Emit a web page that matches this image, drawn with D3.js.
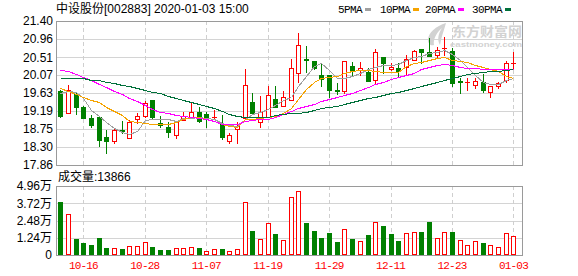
<!DOCTYPE html>
<html>
<head>
<meta charset="utf-8">
<script src="https://cdn.jsdelivr.net/npm/d3@7"></script>
<style>
  body { margin: 0; background: #fff; }
  svg { display: block; }
  text { font-family: "Liberation Sans", "Noto Sans CJK SC", sans-serif; }
</style>
</head>
<body>
<div class="container"></div>
<script>
const dates = [
  "10-11", "10-14", "10-15", "10-16", "10-17", "10-18", "10-21", "10-22", "10-23", "10-24",
  "10-25", "10-28", "10-29", "10-30", "10-31", "11-01", "11-04", "11-05", "11-06", "11-07",
  "11-08", "11-11", "11-12", "11-13", "11-14", "11-15", "11-18", "11-19", "11-20", "11-21",
  "11-22", "11-25", "11-26", "11-27", "11-28", "11-29", "12-02", "12-03", "12-04", "12-05",
  "12-06", "12-09", "12-10", "12-11", "12-12", "12-13", "12-16", "12-17", "12-18", "12-19",
  "12-20", "12-23", "12-24", "12-25", "12-26", "12-27", "12-30", "12-31", "01-02", "01-03",
];
const openPrices = [
  19.68, 19.13, 19.60, 19.29, 19.02, 19.04, 18.56, 18.46, 18.72, 18.52,
  18.99, 19.07, 19.46, 18.89, 18.80, 18.60, 18.97, 19.01, 19.16, 19.11,
  19.03, 18.87, 18.46, 18.74, 19.01, 19.42, 18.91, 19.05, 19.48, 19.31,
  19.46, 20.11, 20.46, 20.42, 20.07, 20.07, 19.70, 19.68, 20.29, 20.20,
  20.15, 19.95, 20.52, 20.22, 20.25, 20.28, 20.44, 20.70, 20.64, 20.57,
  20.70, 20.67, 19.93, 19.88, 19.83, 19.91, 19.66, 19.79, 19.95, 20.35,
];
const highPrices = [
  19.70, 19.83, 19.64, 19.32, 19.09, 19.05, 18.72, 18.76, 18.93, 18.97,
  19.13, 19.44, 19.46, 19.06, 18.92, 18.95, 19.16, 19.38, 19.28, 19.17,
  19.20, 19.09, 18.64, 18.92, 20.21, 19.64, 19.56, 19.80, 19.80, 19.69,
  20.46, 21.10, 20.79, 20.42, 20.36, 20.07, 19.87, 20.42, 20.40, 20.38,
  20.24, 20.70, 20.52, 20.36, 20.36, 20.56, 20.68, 20.70, 20.99, 20.77,
  21.00, 20.73, 19.99, 19.99, 19.99, 20.09, 19.80, 19.91, 20.42, 20.65,
];
const lowPrices = [
  19.04, 19.13, 19.11, 19.02, 18.80, 18.33, 18.16, 18.41, 18.65, 18.52,
  18.89, 19.05, 19.02, 18.80, 18.56, 18.52, 18.96, 19.01, 18.92, 18.80,
  19.00, 18.50, 18.41, 18.41, 19.00, 19.14, 18.80, 19.04, 19.28, 19.30,
  19.45, 19.91, 20.15, 20.22, 19.79, 19.54, 19.61, 19.62, 20.07, 20.07,
  19.92, 19.87, 20.11, 20.20, 20.03, 20.07, 20.43, 20.36, 20.53, 20.52,
  20.56, 19.80, 19.64, 19.70, 19.75, 19.66, 19.52, 19.75, 19.91, 20.21,
];
const closePrices = [
  19.07, 19.70, 19.29, 19.02, 18.84, 18.47, 18.46, 18.72, 18.70, 18.92,
  19.06, 19.38, 19.04, 18.85, 18.68, 18.94, 19.06, 19.17, 18.94, 19.02,
  19.05, 18.56, 18.60, 18.82, 19.82, 19.15, 19.16, 19.57, 19.29, 19.52,
  20.24, 20.81, 20.43, 20.25, 19.97, 19.70, 19.68, 20.42, 20.20, 20.24,
  19.93, 20.65, 20.36, 20.28, 20.17, 20.46, 20.66, 20.65, 20.54, 20.69,
  20.73, 19.87, 19.89, 19.91, 19.93, 19.70, 19.79, 19.87, 20.36, 20.37,
];
// volume in 手
const volumes = [
  38300, 29700, 11500, 8900, 7200, 12400, 5300, 4800, 4300, 6200,
  6200, 9300, 5800, 3600, 3600, 4800, 4800, 5600, 5000, 2900,
  4100, 4300, 2900, 4100, 37900, 17300, 11300, 22800, 15100, 10800,
  41500, 45800, 23000, 17300, 12200, 16000, 9300, 18500, 11500, 10100,
  14400, 23500, 20800, 15100, 10300, 15800, 16500, 16500, 23700, 12200,
  16500, 16500, 10800, 7200, 10100, 8600, 7000, 5800, 15800, 13866,
];
const ma5 = [
  19.64, 19.67, 19.65, 19.51, 19.22, 19.06, 18.92, 18.76, 18.67, 18.62,
  18.70, 18.97, 19.00, 19.00, 18.98, 18.95, 19.01, 19.02, 19.03, 19.02,
  18.98, 18.90, 18.84, 18.82, 18.98, 19.11, 19.16, 19.24, 19.34, 19.46,
  19.53, 19.81, 20.06, 20.29, 20.36, 20.20, 20.01, 20.01, 20.04, 20.11,
  20.21, 20.28, 20.32, 20.33, 20.34, 20.43, 20.51, 20.55, 20.61, 20.65,
  20.69, 20.59, 20.44, 20.27, 20.07, 19.90, 19.85, 19.86, 19.94, 20.00,
];
const ma10 = [
  19.76, 19.69, 19.61, 19.52, 19.46, 19.40, 19.29, 19.19, 19.09, 18.95,
  18.92, 18.89, 18.87, 18.86, 18.86, 18.92, 18.98, 19.03, 19.03, 19.00,
  18.95, 18.86, 18.81, 18.79, 18.99, 19.00, 19.02, 19.03, 19.06, 19.13,
  19.26, 19.49, 19.73, 19.90, 19.99, 20.02, 20.06, 20.11, 20.17, 20.19,
  20.19, 20.17, 20.15, 20.14, 20.15, 20.29, 20.37, 20.40, 20.44, 20.48,
  20.51, 20.44, 20.42, 20.38, 20.32, 20.27, 20.22, 20.17, 20.05, 20.01,
];
const ma20 = [
  20.20, 20.16, 20.10, 20.02, 19.94, 19.85, 19.77, 19.68, 19.61, 19.51,
  19.43, 19.34, 19.24, 19.16, 19.13, 19.10, 19.06, 19.04, 19.02, 18.98,
  18.93, 18.87, 18.86, 18.86, 18.94, 18.97, 18.98, 19.00, 19.05, 19.11,
  19.19, 19.25, 19.31, 19.37, 19.43, 19.49, 19.54, 19.59, 19.64, 19.70,
  19.78, 19.84, 19.90, 19.97, 20.02, 20.07, 20.13, 20.21, 20.27, 20.31,
  20.34, 20.31, 20.27, 20.24, 20.24, 20.23, 20.22, 20.21, 20.21, 20.21,
];
const ma30 = [
  19.99, 19.99, 19.99, 19.99, 19.96, 19.94, 19.91, 19.87, 19.83, 19.79,
  19.76, 19.71, 19.66, 19.62, 19.56, 19.50, 19.46, 19.42, 19.37, 19.32,
  19.27, 19.19, 19.12, 19.06, 19.05, 19.05, 19.05, 19.05, 19.08, 19.11,
  19.14, 19.15, 19.17, 19.21, 19.25, 19.28, 19.32, 19.37, 19.41, 19.46,
  19.50, 19.54, 19.58, 19.62, 19.66, 19.70, 19.75, 19.80, 19.85, 19.89,
  19.94, 19.99, 20.05, 20.10, 20.12, 20.14, 20.16, 20.17, 20.20, 20.22,
];
const maNames = ["5PMA", "10PMA", "20PMA", "30PMA"];
const priceTicks = [17.86, 18.30, 18.75, 19.19, 19.63, 20.07, 20.51, 20.96, 21.40];
const volumeTicks = [0, 12400, 24800, 37200, 49600];
const dateTicks = ["10-16", "10-28", "11-07", "11-19", "11-29", "12-11", "12-23", "01-03"];
const title = "中设股份[002883] 2020-01-03 15:00";

const UP = "#ff0000";
const DOWN = "#008000";
const maColors = ["#a0a0a0", "#f5a300", "#ff00ff", "#00703a"];
const maLegendX = [338, 380, 425, 472];

const width = 578;
const height = 276;
const plotLeft = 56;
const plotRight = 522;
const priceTop = 21;
const priceBottom = 165;
const volTop = 186;
const volBottom = 255;

const svg = d3.select(".container").append("svg")
  .attr("width", width)
  .attr("height", height);

const x = d3.scaleBand().domain(dates).range([56.5, 517.3]);
const cx = (d) => Math.round(x(d) + x.bandwidth() / 2);
const yPrice = d3.scaleLinear().domain([17.86, 21.40]).range([priceBottom, priceTop]);
const yVol = d3.scaleLinear().domain([0, 49600]).range([volBottom, volTop]);

renderPanel(yPrice, priceTicks, priceTop, priceBottom);
renderPanel(yVol, volumeTicks, volTop, volBottom);
renderWatermark();
renderAxes();
renderVolumes();
renderCandles();
renderAverages();
renderTexts();

function renderPanel(y, ticks, top, bottom) {
  const g = svg.append("g").attr("shape-rendering", "crispEdges");

  g.selectAll(".hgrid")
    .data(ticks)
    .join("line")
    .attr("x1", plotLeft)
    .attr("x2", plotRight)
    .attr("y1", (d) => Math.round(y(d)) + 0.5)
    .attr("y2", (d) => Math.round(y(d)) + 0.5)
    .attr("stroke", "#d4d4d4");

  g.selectAll(".vgrid")
    .data(dateTicks)
    .join("line")
    .attr("x1", (d) => cx(d) + 0.5)
    .attr("x2", (d) => cx(d) + 0.5)
    .attr("y1", top)
    .attr("y2", bottom)
    .attr("stroke", "#cfcfcf")
    .attr("stroke-dasharray", "4,3");

  g.append("rect")
    .attr("x", plotLeft + 0.5)
    .attr("y", top + 0.5)
    .attr("width", plotRight - plotLeft)
    .attr("height", bottom - top)
    .attr("fill", "none")
    .attr("stroke", "#9a9a9a");
}

function renderAxes() {
  const priceAxis = svg.append("g")
    .attr("transform", `translate(${plotLeft},0)`)
    .call(d3.axisLeft(yPrice).tickValues(priceTicks).tickSize(0).tickPadding(3)
      .tickFormat(d3.format(".2f")));

  const volAxis = svg.append("g")
    .attr("transform", `translate(${plotLeft},0)`)
    .call(d3.axisLeft(yVol).tickValues(volumeTicks).tickSize(0).tickPadding(4)
      .tickFormat((d) => (d === 0 ? "0" : (d / 10000).toFixed(2) + "万")));

  const dateAxis = svg.append("g")
    .attr("transform", `translate(0,${volBottom})`)
    .call(d3.axisBottom(x).tickValues(dateTicks).tickSize(0).tickPadding(6.5));

  [priceAxis, volAxis, dateAxis].forEach((a) => {
    a.select(".domain").remove();
    a.attr("font-family", null).attr("font-size", null);
  });

  priceAxis.selectAll("text").attr("font-size", 12).attr("fill", "#000");
  volAxis.selectAll("text").attr("font-size", 12).attr("fill", "#000");
  dateAxis.selectAll("text")
    .attr("font-size", 11)
    .attr("fill", UP)
    .style("font-family", '"Liberation Mono", monospace')
    .attr("letter-spacing", "-0.8px");
}

function renderCandles() {
  const g = svg.append("g").attr("shape-rendering", "crispEdges");

  dates.forEach((d, i) => {
    const c = cx(d);
    const o = Math.round(yPrice(openPrices[i]));
    const cl = Math.round(yPrice(closePrices[i]));
    const hi = Math.round(yPrice(highPrices[i]));
    const lo = Math.round(yPrice(lowPrices[i]));
    const isUp = closePrices[i] >= openPrices[i];
    const color = isUp ? UP : DOWN;

    g.append("line")
      .attr("x1", c + 0.5)
      .attr("x2", c + 0.5)
      .attr("y1", hi)
      .attr("y2", lo + 1)
      .attr("stroke", color);

    if (isUp) {
      if (o - cl < 2) {
        g.append("rect")
          .attr("x", c - 2)
          .attr("y", cl)
          .attr("width", 5)
          .attr("height", Math.max(1, o - cl))
          .attr("fill", UP);
      } else {
        g.append("rect")
          .attr("x", c - 1.5)
          .attr("y", cl + 0.5)
          .attr("width", 4)
          .attr("height", o - cl)
          .attr("fill", "#fff")
          .attr("stroke", UP);
      }
    } else {
      g.append("rect")
        .attr("x", c - 2)
        .attr("y", o)
        .attr("width", 5)
        .attr("height", Math.max(1, cl - o + 1))
        .attr("fill", DOWN);
    }
  });
}

function renderVolumes() {
  const g = svg.append("g").attr("shape-rendering", "crispEdges");

  dates.forEach((d, i) => {
    const c = cx(d);
    const top = Math.round(yVol(volumes[i]));
    const prev = i === 0 ? openPrices[0] : closePrices[i - 1];
    const isUp = closePrices[i] >= prev;

    if (isUp) {
      g.append("rect")
        .attr("x", c - 1.5)
        .attr("y", top + 0.5)
        .attr("width", 4)
        .attr("height", volBottom - top - 1)
        .attr("fill", "#fff")
        .attr("stroke", UP);
    } else {
      g.append("rect")
        .attr("x", c - 2)
        .attr("y", top)
        .attr("width", 5)
        .attr("height", volBottom - top)
        .attr("fill", DOWN);
    }
  });
}

function renderAverages() {
  const line = d3.line()
    .x((v, i) => cx(dates[i]) + 0.5)
    .y((v) => Math.round(yPrice(v)) + 0.5);

  [ma5, ma10, ma20, ma30].forEach((series, k) => {
    svg.append("path")
      .attr("d", line(series))
      .attr("fill", "none")
      .attr("stroke", maColors[k])
      .attr("stroke-width", 1)
      .attr("shape-rendering", "crispEdges");
  });
}

function renderTexts() {
  svg.append("text")
    .attr("x", 56)
    .attr("y", 13)
    .attr("font-size", 12)
    .attr("fill", "#000")
    .text(title);

  maNames.forEach((name, k) => {
    const t = svg.append("text")
      .attr("x", maLegendX[k])
      .attr("y", 13)
      .attr("font-size", 11)
      .attr("fill", "#000")
      .attr("letter-spacing", "-0.6px")
      .style("font-family", '"Liberation Mono", monospace')
      .text(name);
    const w = t.node().getComputedTextLength();
    svg.append("rect")
      .attr("x", Math.round(maLegendX[k] + w + 3))
      .attr("y", 8)
      .attr("width", 6)
      .attr("height", 3)
      .attr("fill", maColors[k]);
  });

  svg.append("text")
    .attr("x", 58)
    .attr("y", 181)
    .attr("font-size", 12)
    .attr("fill", "#000")
    .text("成交量:" + volumes[volumes.length - 1]);
}

function renderWatermark() {
  const g = svg.append("g").attr("fill", "#d2d2d2");

  g.append("path")
    .attr("d", "M446,23 C436,26 428,33 428,40 C428,44 431,46 434,45 C433,40 436,33 442,28 C438,34 437,40 440,45 C441,38 444,30 446,23 Z");

  g.append("text")
    .attr("x", 452)
    .attr("y", 35.5)
    .attr("font-size", 13)
    .attr("font-weight", "bold")
    .attr("textLength", 70)
    .attr("lengthAdjust", "spacingAndGlyphs")
    .style("font-family", '"Noto Sans CJK SC", sans-serif')
    .text("东方财富网");

  g.append("text")
    .attr("x", 450)
    .attr("y", 47)
    .attr("font-size", 8)
    .attr("font-weight", "bold")
    .attr("textLength", 72)
    .attr("lengthAdjust", "spacingAndGlyphs")
    .text("eastmoney.com");
}
</script>
</body>
</html>
